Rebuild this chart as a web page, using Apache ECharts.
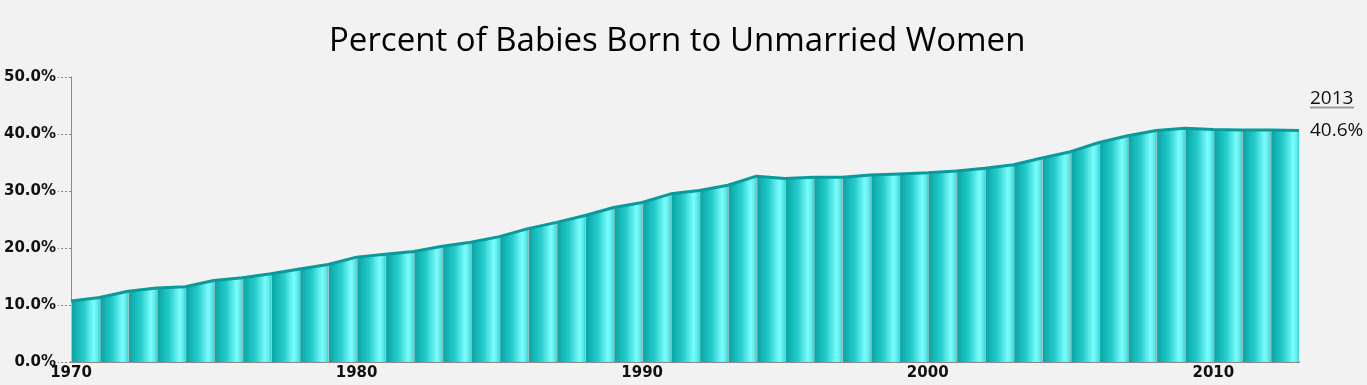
<!DOCTYPE html>
<html>
<head>
<meta charset="utf-8">
<script src="https://cdn.jsdelivr.net/npm/echarts@6/dist/echarts.min.js"></script>
<style>
html,body{margin:0;padding:0;background:#f2f2f2;}
#chart{width:1367px;height:385px;}
</style>
</head>
<body>
<div id="chart"></div>
<script>
var years = [1970,1971,1972,1973,1974,1975,1976,1977,1978,1979,1980,1981,1982,1983,1984,1985,1986,1987,1988,1989,1990,1991,1992,1993,1994,1995,1996,1997,1998,1999,2000,2001,2002,2003,2004,2005,2006,2007,2008,2009,2010,2011,2012,2013];
var percents = [10.7,11.3,12.4,13.0,13.2,14.3,14.8,15.5,16.3,17.1,18.4,18.9,19.4,20.3,21.0,22.0,23.4,24.5,25.7,27.1,28.0,29.5,30.1,31.0,32.6,32.2,32.4,32.4,32.8,33.0,33.2,33.5,34.0,34.6,35.8,36.9,38.5,39.7,40.6,41.0,40.8,40.7,40.7,40.6];
var yTicks = [0,10,20,30,40,50];
var xTicks = [1970,1980,1990,2000,2010];
var titleText = 'Percent of Babies Born to Unmarried Women';

var chart = echarts.init(document.getElementById('chart'));

var stripData = [];
for (var i = 0; i < years.length - 1; i++) {
  stripData.push([years[i], percents[i], years[i+1], percents[i+1]]);
}
var lineData = years.map(function(y, i){ return [y, percents[i]]; });

function renderStrip(params, api) {
  var x0 = api.value(0), v0 = api.value(1), x1 = api.value(2), v1 = api.value(3);
  var a = api.coord([x0, 0]), b = api.coord([x0, v0]), c = api.coord([x1, v1]), d = api.coord([x1, 0]);
  return {
    type: 'group',
    children: [
      {
        type: 'polygon',
        shape: { points: [a, b, c, d] },
        style: {
          fill: new echarts.graphic.LinearGradient(0, 0, 1, 0, [
            { offset: 0, color: '#06a2a2' },
            { offset: 0.45, color: '#26cccc' },
            { offset: 0.8, color: '#7cfcfc' },
            { offset: 0.93, color: '#5aecec' },
            { offset: 1, color: '#38d4d4' }
          ])
        }
      },
      {
        type: 'line',
        shape: { x1: a[0] + 0.5, y1: a[1], x2: b[0] + 0.5, y2: b[1] },
        style: { stroke: 'rgba(190,200,200,0.9)', lineWidth: 1 }
      }
    ]
  };
}

chart.setOption({
  backgroundColor: '#f2f2f2',
  animation: false,
  title: {
    text: titleText,
    left: 324,
    top: 20,
    textStyle: { fontFamily: 'Open Sans', fontSize: 33, fontWeight: 'normal', color: '#000' }
  },
  grid: { left: 71, right: 68, top: 77, bottom: 23 },
  xAxis: {
    type: 'value',
    min: 1970, max: 2013, interval: 10,
    axisLine: { show: true, lineStyle: { color: '#8a8a8a', width: 2 } },
    axisTick: { show: false },
    splitLine: { show: false },
    axisLabel: {
      margin: 4,
      showMaxLabel: false,
      fontFamily: 'DejaVu Sans', fontWeight: 'bold', fontSize: 15, color: '#111',
      formatter: function(v){ return xTicks.indexOf(v) >= 0 ? String(v) : ''; }
    }
  },
  yAxis: {
    type: 'value',
    min: 0, max: 50, interval: 10,
    axisLine: { show: true, lineStyle: { color: '#8a8a8a', width: 1 } },
    axisTick: { show: true, length: 13, lineStyle: { color: '#888', type: [2, 2] } },
    splitLine: { show: false },
    axisLabel: {
      margin: 15,
      padding: [2, 0, 0, 0],
      fontFamily: 'DejaVu Sans', fontWeight: 'bold', fontSize: 15, color: '#111',
      formatter: function(v){ return yTicks.indexOf(v) >= 0 ? v.toFixed(1) + '%' : ''; }
    }
  },
  series: [
    {
      type: 'custom',
      renderItem: renderStrip,
      data: stripData,
      encode: { x: [0, 2], y: [1, 3] },
      clip: true,
      z: 1
    },
    {
      type: 'line',
      data: lineData,
      symbol: 'none',
      lineStyle: { color: '#0a9a9a', width: 3 },
      z: 3
    }
  ]
});

var last = years.length - 1;
var p = chart.convertToPixel({ gridIndex: 0 }, [years[last], percents[last]]);
var tx = p[0] + 11;
chart.setOption({
  graphic: [
    { type: 'text', left: tx, top: p[1] - 41, style: { text: String(years[last]), font: '19px "Open Sans"', fill: '#111' } },
    { type: 'line', shape: { x1: tx, y1: p[1] - 23, x2: tx + 44, y2: p[1] - 23 }, style: { stroke: '#999', lineWidth: 2 } },
    { type: 'text', left: tx, top: p[1] - 9, style: { text: percents[last].toFixed(1) + '%', font: '19px "Open Sans"', fill: '#111' } }
  ]
});
</script>
</body>
</html>
